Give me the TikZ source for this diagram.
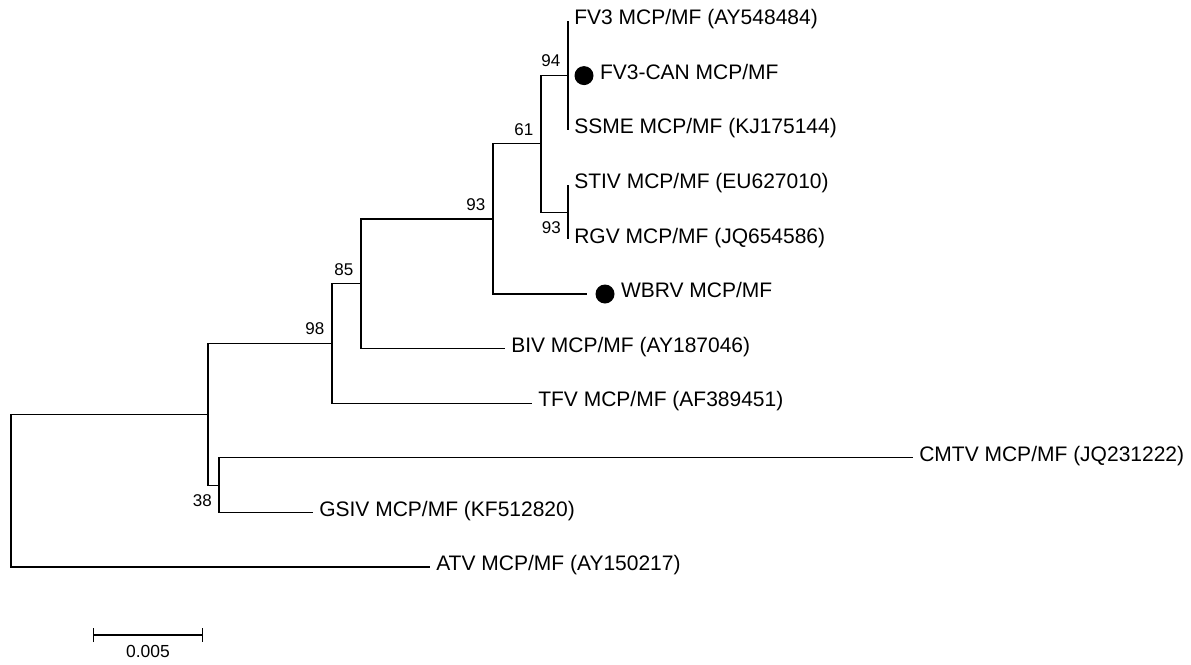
\documentclass[tikz,border=0pt]{standalone}
\usepackage{fontspec}
\setmainfont{Liberation Sans}
\usetikzlibrary{arrows.meta}

\tikzset{
  branch/.style={line width=0.9pt},
  leaf/.style={anchor=base west, inner sep=0pt, xshift=4.5pt, yshift=-2.8pt,
    font=\fontsize{15.75}{18}\selectfont},
  boot/.style={anchor=base east, inner sep=0pt, xshift=-5.6pt, yshift=6.5pt,
    font=\fontsize{12.75}{15}\selectfont},
  bootlow/.style={anchor=north east, inner sep=0pt, xshift=-5.25pt, yshift=-7pt,
    font=\fontsize{12.75}{15}\selectfont},
  dotmark/.style={circle, fill=black, inner sep=0pt, minimum size=14.25pt},
}

\begin{document}
\begin{tikzpicture}[x=0.75pt, y=-0.75pt]
  \useasboundingbox (0,0) rectangle (1191,664);
  % Internal nodes
  \coordinate (root) at (11,490.65);
  \coordinate (nA) at (208,414.3);
  \coordinate (nB) at (332,343.5);
  \coordinate (nC) at (361,283.75);
  \coordinate (nD) at (493,218.9);
  \coordinate (nE) at (541,143.85);
  \coordinate (nF) at (568,75.6);
  \coordinate (nG) at (568,212.1);
  \coordinate (nH) at (219,485.1);
  % Tips
  \coordinate (tFV3) at (568,21);
  \coordinate (tCAN) at (568,75.6);
  \coordinate (tSSME) at (568,130.2);
  \coordinate (tSTIV) at (568,184.8);
  \coordinate (tRGV) at (568,239.4);
  \coordinate (tWBRV) at (587,294);
  \coordinate (tBIV) at (505,348.6);
  \coordinate (tTFV) at (532,403.2);
  \coordinate (tCMTV) at (913,457.8);
  \coordinate (tGSIV) at (313,512.4);
  \coordinate (tATV) at (430,567);
  % Branches
  \draw[branch] (root) |- (nA);
  \draw[branch] (root) |- (tATV);
  \draw[branch] (nA) |- (nB);
  \draw[branch] (nA) |- (nH);
  \draw[branch] (nH) |- (tCMTV);
  \draw[branch] (nH) |- (tGSIV);
  \draw[branch] (nB) |- (nC);
  \draw[branch] (nB) |- (tTFV);
  \draw[branch] (nC) |- (nD);
  \draw[branch] (nC) |- (tBIV);
  \draw[branch] (nD) |- (nE);
  \draw[branch] (nD) |- (tWBRV);
  \draw[branch] (nE) |- (nF);
  \draw[branch] (nE) |- (nG);
  \draw[branch] (nF) |- (tFV3);
  \draw[branch] (nF) |- (tSSME);
  \draw[branch] (nG) |- (tSTIV);
  \draw[branch] (nG) |- (tRGV);
  % Taxa
  \node[leaf] (lFV3) at (tFV3) {FV3 MCP/MF (AY548484)};
  \node[dotmark, xshift=12pt] (dCAN) at (tCAN) {};
  \node[leaf] (lCAN) at (dCAN.east) {FV3-CAN MCP/MF};
  \node[leaf] (lSSME) at (tSSME) {SSME MCP/MF (KJ175144)};
  \node[leaf] (lSTIV) at (tSTIV) {STIV MCP/MF (EU627010)};
  \node[leaf] (lRGV) at (tRGV) {RGV MCP/MF (JQ654586)};
  \node[dotmark, xshift=13.5pt] (dWBRV) at (tWBRV) {};
  \node[leaf] (lWBRV) at (dWBRV.east) {WBRV MCP/MF};
  \node[leaf] (lBIV) at (tBIV) {BIV MCP/MF (AY187046)};
  \node[leaf] (lTFV) at (tTFV) {TFV MCP/MF (AF389451)};
  \node[leaf] (lCMTV) at (tCMTV) {CMTV MCP/MF (JQ231222)};
  \node[leaf] (lGSIV) at (tGSIV) {GSIV MCP/MF (KF512820)};
  \node[leaf] (lATV) at (tATV) {ATV MCP/MF (AY150217)};
  % Bootstrap values
  \node[boot] (bF) at (nF) {94};
  \node[boot] (bE) at (nE) {61};
  \node[boot] (bD) at (nD) {93};
  \node[bootlow] (bG) at (nG) {93};
  \node[boot] (bC) at (nC) {85};
  \node[boot] (bB) at (nB) {98};
  \node[bootlow] (bH) at (nH) {38};
  % Scale bar
  \coordinate (sL) at (93,635);
  \coordinate (sR) at (203,635);
  \draw[branch, {Bar[width=10.5pt]}-{Bar[width=10.5pt]}] (sL) -- (sR);
  \node[anchor=north, inner sep=0pt, font=\fontsize{13.1}{15}\selectfont]
    (sLab) at (148,645) {0.005};
\end{tikzpicture}
\end{document}
